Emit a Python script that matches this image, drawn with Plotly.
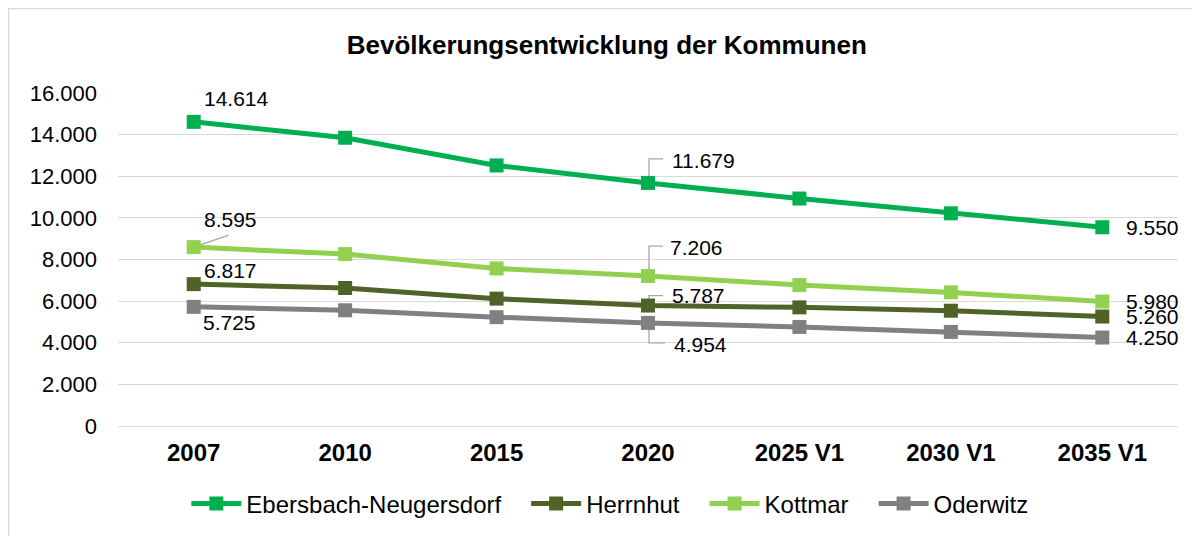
import plotly.graph_objects as go

# ---- data ----
categories = ["2007", "2010", "2015", "2020", "2025 V1", "2030 V1", "2035 V1"]
series_names = ["Ebersbach-Neugersdorf", "Herrnhut", "Kottmar", "Oderwitz"]
ebersbach = [14614, 13850, 12520, 11679, 10930, 10220, 9550]
herrnhut = [6817, 6630, 6120, 5787, 5700, 5540, 5260]
kottmar = [8595, 8260, 7570, 7206, 6770, 6420, 5980]
oderwitz = [5725, 5560, 5230, 4954, 4760, 4520, 4250]
y_ticks = [0, 2000, 4000, 6000, 8000, 10000, 12000, 14000, 16000]

values = [ebersbach, herrnhut, kottmar, oderwitz]
colors = ["#00B050", "#4F6228", "#92D050", "#808080"]

# labels shown: (series index, category index)
labeled_points = [(0, 0), (0, 3), (0, 6),
                  (1, 0), (1, 3), (1, 6),
                  (2, 0), (2, 3), (2, 6),
                  (3, 0), (3, 3), (3, 6)]
# label offsets in pixels (xshift, yshift), style only
label_style = {
    (0, 0): (8, 23), (0, 3): (22, 22), (0, 6): (22, 0),
    (1, 0): (8, 14), (1, 3): (22, 10), (1, 6): (22, 0),
    (2, 0): (8, 28), (2, 3): (20, 29), (2, 6): (22, 0),
    (3, 0): (7, -16), (3, 3): (24, -22), (3, 6): (22, 0),
}
# leader lines (pixel paths relative to the point)
leader_style = {
    (0, 3): "M 1 0 L 1 24 L 15 24",
    (2, 3): "M 1 0 L 1 30 L 15 30",
    (1, 3): "M 1 0 L 1 10 L 15 10",
    (3, 3): "M 1 0 L 1 -20 L 17 -20",
    (2, 0): "M 0 0 L 35 12",
}
legend_pad = ["\u00a0\u00a0\u00a0", "\u00a0\u00a0\u00a0", "\u00a0\u00a0\u00a0", ""]


def fmt(v):
    return f"{v:,}".replace(",", ".")


FONT = "Liberation Sans, Arial, sans-serif"

fig = go.Figure()
for name, pad, vals, col in zip(series_names, legend_pad, values, colors):
    fig.add_trace(go.Scatter(
        x=list(range(len(categories))), y=vals, name=name + pad,
        mode="lines+markers",
        line=dict(color=col, width=5),
        marker=dict(symbol="square", size=14, color=col),
        hoverinfo="skip",
    ))

annotations = []
shapes = []
for (si, ci) in labeled_points:
    xs, ys = label_style[(si, ci)]
    annotations.append(dict(
        x=ci, y=values[si][ci], xref="x", yref="y",
        text=fmt(values[si][ci]), showarrow=False,
        xanchor="left", yanchor="middle", xshift=xs, yshift=ys,
        font=dict(family=FONT, size=21, color="#000000"),
    ))
    if (si, ci) in leader_style:
        shapes.append(dict(
            type="path", xref="x", yref="y",
            xsizemode="pixel", ysizemode="pixel",
            xanchor=ci, yanchor=values[si][ci],
            path=leader_style[(si, ci)],
            line=dict(color="#A6A6A6", width=1.3),
            layer="between",
        ))

# outer chart border (decoration)
shapes.append(dict(
    type="rect", xref="paper", yref="paper",
    x0=-109.5 / 1060, x1=1.1, y0=-0.5, y1=1 + 84.5 / 333,
    line=dict(color="#D9D9D9", width=1.5), fillcolor="rgba(0,0,0,0)",
    layer="below",
))

fig.update_layout(
    width=1200, height=536, autosize=False,
    margin=dict(l=110, r=30, t=85, b=118, autoexpand=False),
    paper_bgcolor="white", plot_bgcolor="white",
    separators=",.",
    font=dict(family=FONT, size=22, color="#000000"),
    title=dict(
        text="<b>Bevölkerungsentwicklung der Kommunen</b>",
        x=0.499, xref="container", xanchor="center",
        y=1 - 37 / 536, yref="container", yanchor="middle",
        font=dict(family=FONT, size=26, color="#000000"),
    ),
    xaxis=dict(
        range=[-0.5, len(categories) - 0.5],
        tickvals=list(range(len(categories))), ticktext=categories,
        showgrid=False, showline=True, linecolor="#D9D9D9", linewidth=1.3,
        ticks="", ticklabelstandoff=5, zeroline=False,
        tickfont=dict(family=FONT, size=24, color="#000000", weight="bold"),
        fixedrange=True,
    ),
    yaxis=dict(
        range=[0, 16000], tickvals=y_ticks, tickformat=",",
        showgrid=True, gridcolor="#D9D9D9", gridwidth=1.3,
        zeroline=False, showline=False, ticks="", ticklabelstandoff=20,
        tickfont=dict(family=FONT, size=22, color="#000000"),
        fixedrange=True,
    ),
    legend=dict(
        orientation="h", x=0.464, xanchor="center",
        y=-(504 - 426) / 333, yanchor="middle",
        font=dict(family=FONT, size=24, color="#000000"),
        itemwidth=50, traceorder="normal",
    ),
    annotations=annotations,
    shapes=shapes,
    showlegend=True,
)

fig.write_html("out.html")
